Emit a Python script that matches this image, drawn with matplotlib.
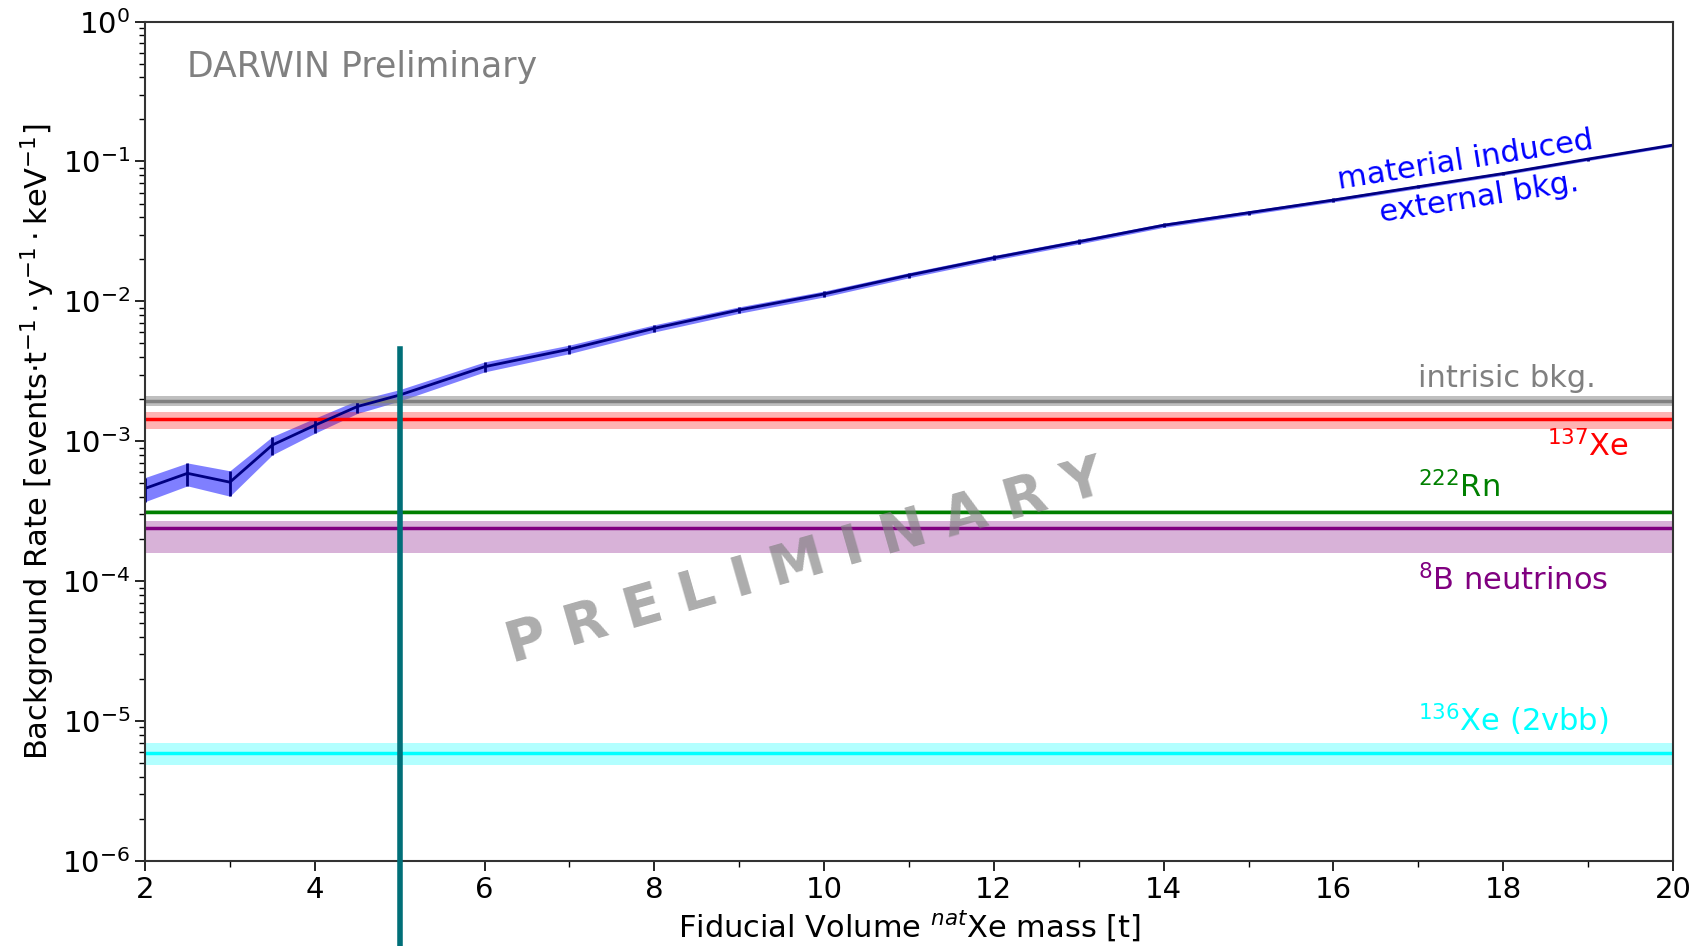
"""Background rate vs fiducial mass for DARWIN, with the flat background components."""
import numpy as np
import matplotlib.pyplot as plt
from matplotlib.ticker import MultipleLocator

# material induced external background vs fiducial mass
mass = [2, 2.5, 3, 3.5, 4, 4.5, 5, 6, 7, 8, 9, 10, 11, 12, 13, 14, 15, 16, 17, 18, 19, 20]
ext_rate = [4.6e-4, 5.9e-4, 5.1e-4, 9.4e-4, 1.3e-3, 1.77e-3, 2.14e-3, 3.41e-3, 4.55e-3,
            6.42e-3, 8.68e-3, 1.13e-2, 1.54e-2, 2.05e-2, 2.67e-2, 3.5e-2, 4.3e-2, 5.3e-2,
            6.6e-2, 8.2e-2, 1.04e-1, 1.31e-1]
ext_err = [0.9e-4, 1.1e-4, 1.05e-4, 1.4e-4, 1.6e-4, 1.9e-4, 2.0e-4, 2.8e-4, 3.2e-4,
           3.8e-4, 4.6e-4, 5.5e-4, 6.5e-4, 8e-4, 1.0e-3, 1.2e-3, 1.4e-3, 1.6e-3,
           1.9e-3, 2.2e-3, 2.6e-3, 3.0e-3]

# flat components: (rate, low, high)
intrinsic = (1.95e-3, 1.8e-3, 2.1e-3)
xe137 = (1.44e-3, 1.22e-3, 1.61e-3)
rn222 = (3.1e-4, 3.0e-4, 3.2e-4)
b8_nu = (2.39e-4, 1.6e-4, 2.7e-4)
xe136 = (5.94e-6, 4.85e-6, 6.93e-6)

fv_cut = 5.0

fig = plt.figure(figsize=(16.96, 9.46), dpi=100)
ax = fig.add_axes([0.0855, 0.0899, 0.9009, 0.8873])

m = np.array(mass)
r = np.array(ext_rate)
e = np.array(ext_err)
ax.fill_between(m, r - e, r + e, color="blue", alpha=0.5, lw=0)
ax.errorbar(m, r, yerr=e, color="navy", lw=2, elinewidth=2, capsize=0)

for (val, lo, hi), col, a in [(intrinsic, "gray", 0.5), (xe137, "red", 0.3),
                              (rn222, "green", 0.3), (b8_nu, "purple", 0.3),
                              (xe136, "cyan", 0.3)]:
    ax.axhspan(lo, hi, color=col, alpha=a, lw=0)
    ax.axhline(val, color=col, lw=2.5)

# fiducial volume cut
ax.plot([fv_cut, fv_cut], [4.54e-3, 1e-7], color="#006f78", lw=4, clip_on=False, zorder=5)

ax.set_yscale("log")
ax.set_xlim(2, 20)
ax.set_ylim(1e-6, 1)
ax.xaxis.set_major_locator(MultipleLocator(2))
ax.xaxis.set_minor_locator(MultipleLocator(1))
ax.tick_params(which="major", labelsize=21, length=7, width=1.2)
ax.tick_params(which="minor", length=4, width=1)
for sp in ax.spines.values():
    sp.set_color("#333333")
    sp.set_linewidth(1.5)

ax.set_xlabel(r"Fiducial Volume $^{nat}$Xe mass [t]", fontsize=22, labelpad=3)
ax.set_ylabel(r"Background Rate [events$\cdot$t$^{-1}\cdot$y$^{-1}\cdot$keV$^{-1}$]",
              fontsize=22, labelpad=4)

tfs = 22
ax.text(2.5, 0.47, "DARWIN Preliminary", color="gray", fontsize=25, va="center")
ax.text(17.55, 0.102, "material induced", color="blue", fontsize=tfs,
        rotation=9, ha="center", va="center")
ax.text(17.72, 0.055, "external bkg.", color="blue", fontsize=tfs,
        rotation=9, ha="center", va="center")
ax.text(17.0, 2.8e-3, "intrisic bkg.", color="gray", fontsize=tfs, va="center")
ax.text(19.48, 9.3e-4, r"$^{137}$Xe", color="red", fontsize=tfs, ha="right", va="center")
ax.text(17.0, 4.7e-4, r"$^{222}$Rn", color="green", fontsize=tfs, va="center")
ax.text(17.0, 1.02e-4, r"$^{8}$B neutrinos", color="purple", fontsize=tfs, va="center")
ax.text(17.0, 1.03e-5, r"$^{136}$Xe (2vbb)", color="cyan", fontsize=tfs, va="center")

ax.text(9.78, 1.36e-4, "P R E L I M I N A R Y", color="gray", alpha=0.65,
        fontsize=40, fontweight="bold", rotation=16, ha="center", va="center")

fig.savefig("out.png", dpi=100)
